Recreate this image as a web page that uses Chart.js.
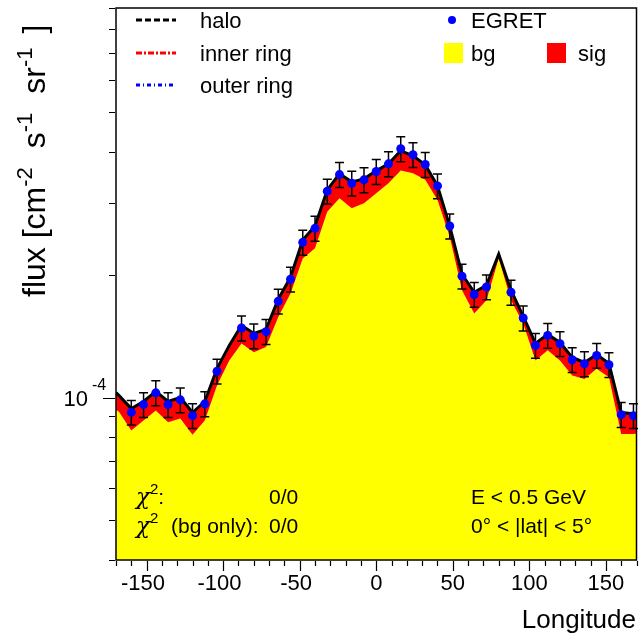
<!DOCTYPE html>
<html>
<head>
<meta charset="utf-8">
<script src="https://cdn.jsdelivr.net/npm/chart.js@4.4.0/dist/chart.umd.min.js"></script>
<style>
  html, body { margin: 0; padding: 0; background: #fff; }
  #wrap { width: 641px; height: 637px; }
</style>
</head>
<body>
<div id="wrap"><canvas id="chart" width="641" height="637"></canvas></div>
<script>
    // values in units of 1e-4 cm^-2 s^-1 sr^-1
    const UNIT = 1e-4;

    // model curves (bin centres every 8 deg, plus the frame edges)
    const modelLon = [-170, -168, -160, -152, -144, -136, -128, -120, -112, -104, -96, -88, -80, -72, -64, -56, -48, -40, -32, -24, -16, -8,
        0, 8, 16, 24, 32, 40, 48, 56, 64, 72, 80, 88, 96, 104, 112, 120, 128, 136, 144, 152, 160, 168, 170];
    const totalModel = [1.029, 1.011, 0.940, 0.978, 1.035, 0.978, 1.000, 0.919, 0.978, 1.178, 1.342, 1.503, 1.436, 1.469, 1.741, 1.971, 2.431, 2.631, 3.226, 3.531, 3.376, 3.433,
        3.592, 3.737, 4.022, 3.910, 3.715, 3.299, 2.631, 2.005, 1.811, 1.884, 2.246, 1.832, 1.581, 1.357, 1.428, 1.365, 1.254, 1.219, 1.275, 1.212, 0.919, 0.913, 0.913];
    const bgModel = [0.935, 0.922, 0.830, 0.878, 0.929, 0.870, 0.888, 0.811, 0.878, 1.070, 1.233, 1.357, 1.292, 1.329, 1.575, 1.798, 2.192, 2.320, 2.853, 3.077, 2.909, 2.992,
        3.166, 3.350, 3.597, 3.545, 3.414, 3.048, 2.477, 1.832, 1.606, 1.731, 2.192, 1.731, 1.518, 1.233, 1.305, 1.233, 1.132, 1.111, 1.176, 1.122, 0.814, 0.814, 0.815];

    // EGRET data points
    const egretLon = [-160, -152, -144, -136, -128, -120, -112, -104, -88, -80, -72, -64, -56, -48, -40, -32, -24, -16, -8,
        0, 8, 16, 24, 32, 40, 48, 56, 64, 72, 88, 96, 104, 112, 120, 128, 136, 144, 152, 160, 168];
    const egretFlux = [0.920, 0.961, 1.027, 0.961, 0.987, 0.903, 0.965, 1.160, 1.480, 1.415, 1.450, 1.721, 1.949, 2.400, 2.597, 3.202, 3.517, 3.350, 3.414,
        3.578, 3.737, 4.068, 3.933, 3.722, 3.299, 2.631, 1.983, 1.788, 1.866, 1.811, 1.566, 1.342, 1.420, 1.355, 1.238, 1.210, 1.268, 1.203, 0.908, 0.903];
    const egretErr = [0.064, 0.067, 0.072, 0.067, 0.069, 0.063, 0.068, 0.081, 0.104, 0.099, 0.102, 0.120, 0.136, 0.168, 0.182, 0.224, 0.246, 0.235, 0.239,
        0.250, 0.262, 0.285, 0.275, 0.261, 0.231, 0.184, 0.139, 0.125, 0.131, 0.127, 0.110, 0.094, 0.099, 0.095, 0.087, 0.085, 0.089, 0.084, 0.064, 0.063];

    const xMin = -170, xMax = 170;
    const yMin = 4e-5, yMax = 9e-4;
    const xLabels = [-150, -100, -50, 0, 50, 100, 150];
    const yTicks = [4e-5, 5e-5, 6e-5, 7e-5, 8e-5, 9e-5, 1e-4, 2e-4, 3e-4, 4e-4, 5e-4, 6e-4, 7e-4, 8e-4, 9e-4];

    const FONT = "'Liberation Sans', Arial, sans-serif";

    function pts(xs, ys) {
        return xs.map((x, i) => ({ x: x, y: ys[i] * UNIT }));
    }

    function font(size) {
        return size + 'px ' + FONT;
    }


    // error bars under the EGRET points
    const errorBars = {
        id: 'errorBars',
        beforeDatasetDraw(chart, args) {
            if (args.index !== 0) return;
            const ctx = chart.ctx;
            const xs = chart.scales.x, ys = chart.scales.y;
            ctx.save();
            ctx.strokeStyle = '#000';
            ctx.lineWidth = 1.5;
            egretLon.forEach((lon, i) => {
                let px = xs.getPixelForValue(lon);
                let top = ys.getPixelForValue((egretFlux[i] + egretErr[i]) * UNIT);
                let bot = ys.getPixelForValue((egretFlux[i] - egretErr[i]) * UNIT);
                ctx.beginPath();
                ctx.moveTo(px, top); ctx.lineTo(px, bot);
                ctx.moveTo(px - 4.5, top); ctx.lineTo(px + 4.5, top);
                ctx.moveTo(px - 4.5, bot); ctx.lineTo(px + 4.5, bot);
                ctx.stroke();
            });
            ctx.restore();
        }
    };

    function drawSup(ctx, base, sup, x, y, size, supSize, rise) {
        ctx.font = font(size);
        ctx.fillText(base, x, y);
        let w = ctx.measureText(base).width;
        ctx.font = font(supSize);
        ctx.fillText(sup, x + w, y - rise);
        return w + ctx.measureText(sup).width;
    }

    function drawChi(ctx, x, y) {
        ctx.font = "italic 23px 'DejaVu Serif', serif";
        ctx.fillText('\u03c7', x, y);
        let w = ctx.measureText('\u03c7').width;
        ctx.font = font(15);
        ctx.fillText('2', x + w, y - 10);
        return w + ctx.measureText('2').width;
    }

    // frame, ticks, labels, legend and text
    const frameAndText = {
        id: 'frameAndText',
        afterDraw(chart) {
            const ctx = chart.ctx;
            const a = chart.chartArea;
            const xs = chart.scales.x, ys = chart.scales.y;
            ctx.save();
            ctx.strokeStyle = '#000';
            ctx.fillStyle = '#000';
            ctx.lineWidth = 1.5;
            ctx.strokeRect(a.left, a.top, a.right - a.left, a.bottom - a.top);

            // x ticks
            ctx.lineWidth = 1.2;
            ctx.beginPath();
            for (let v = -170; v <= 170; v += 10) {
                let px = Math.round(xs.getPixelForValue(v)) + 0.5;
                let len = (v % 50 === 0) ? 10 : 5;
                ctx.moveTo(px, a.bottom + 1);
                ctx.lineTo(px, a.bottom + 1 + len);
            }
            // y ticks
            yTicks.forEach(v => {
                let py = Math.round(ys.getPixelForValue(v)) + 0.5;
                let len = (v === 1e-4) ? 12 : 6;
                ctx.moveTo(a.left - 1, py);
                ctx.lineTo(a.left - 1 - len, py);
            });
            ctx.stroke();

            ctx.font = font(22);
            ctx.textAlign = 'center';
            ctx.textBaseline = 'alphabetic';
            xLabels.forEach(v => {
                let px = xs.getPixelForValue(v);
                let txt = String(v);
                // centre on the digits, minus sign hangs left
                let off = v < 0 ? -ctx.measureText('-').width / 2 : 0;
                ctx.fillText(txt, px + off, 590);
            });

            ctx.textAlign = 'right';
            let py = ys.getPixelForValue(1e-4);
            ctx.font = font(22);
            ctx.fillText('10', 88, py + 8);
            ctx.textAlign = 'left';
            ctx.font = font(16);
            ctx.fillText('-4', 92, py - 8);

            ctx.font = font(26);
            ctx.textAlign = 'right';
            ctx.fillText('Longitude', 636, 628);

            // y title, with some room after each exponent
            ctx.save();
            ctx.translate(45, 297);
            ctx.rotate(-Math.PI / 2);
            ctx.textAlign = 'left';
            let x = 0;
            x += drawSup(ctx, 'flux [cm', '-2', x, 0, 32, 22, 13) + 19;
            x += drawSup(ctx, 's', '-1', x, 0, 32, 22, 13) + 19;
            x += drawSup(ctx, 'sr', '-1', x, 0, 32, 22, 13) + 14;
            ctx.font = font(32);
            ctx.fillText(']', x, 0);
            ctx.restore();

            // legend
            ctx.textAlign = 'left';
            ctx.font = font(22);
            const rows = [20, 53, 85];
            const styles = [['#000', [6, 3]], ['#ff0000', [6, 2, 2, 2]], ['#0000ff', [4, 3, 1, 3]]];
            ['halo', 'inner ring', 'outer ring'].forEach((t, i) => {
                ctx.strokeStyle = styles[i][0];
                ctx.lineWidth = 3;
                ctx.setLineDash(styles[i][1]);
                ctx.beginPath();
                ctx.moveTo(136, rows[i]);
                ctx.lineTo(176, rows[i]);
                ctx.stroke();
                ctx.setLineDash([]);
                ctx.fillStyle = '#000';
                ctx.fillText(t, 200, rows[i] + 8);
            });
            ctx.fillStyle = '#0000ff';
            ctx.beginPath();
            ctx.arc(452, rows[0], 4, 0, Math.PI * 2);
            ctx.fill();
            ctx.fillStyle = '#ffff00';
            ctx.fillRect(444, rows[1] - 10, 19, 20);
            ctx.fillStyle = '#ff0000';
            ctx.fillRect(547, rows[1] - 10, 19, 20);
            ctx.fillStyle = '#000';
            ctx.fillText('EGRET', 471, rows[0] + 8);
            ctx.fillText('bg', 471, rows[1] + 8);
            ctx.fillText('sig', 578, rows[1] + 8);

            // fit info
            let w = drawChi(ctx, 136, 504);
            ctx.font = font(21);
            ctx.fillText(':', 136 + w, 504);
            drawChi(ctx, 136, 533);
            ctx.font = font(21);
            ctx.fillText('(bg only):', 171, 533);
            ctx.fillText('0/0', 269, 504);
            ctx.fillText('0/0', 269, 533);
            ctx.fillText('E < 0.5 GeV', 471, 504);
            ctx.fillText('0\u00b0 < |lat| < 5\u00b0', 471, 533);
            ctx.restore();
        }
    };

    const ctx = document.getElementById('chart').getContext('2d');
    new Chart(ctx, {
        type: 'line',
        data: {
            datasets: [
                {
                    label: 'EGRET',
                    data: pts(egretLon, egretFlux),
                    showLine: false,
                    pointRadius: 4.5,
                    pointBackgroundColor: '#0000ff',
                    pointBorderColor: '#0000ff',
                    pointBorderWidth: 0
                },
                {
                    label: 'total',
                    data: pts(modelLon, totalModel),
                    borderColor: '#000',
                    borderWidth: 3,
                    pointRadius: 0,
                    tension: 0,
                    fill: 2,
                    backgroundColor: '#ff0000'
                },
                {
                    label: 'bg',
                    data: pts(modelLon, bgModel),
                    borderColor: 'rgba(0,0,0,0)',
                    borderWidth: 0,
                    pointRadius: 0,
                    tension: 0,
                    fill: 'start',
                    backgroundColor: '#ffff00'
                }
            ]
        },
        options: {
            responsive: false,
            animation: false,
            devicePixelRatio: 1,
            layout: { padding: { left: 116, right: 3, top: 8, bottom: 77 } },
            plugins: { legend: { display: false }, tooltip: { enabled: false } },
            scales: {
                x: { type: 'linear', min: xMin, max: xMax, display: false },
                y: { type: 'logarithmic', min: yMin, max: yMax, display: false }
            }
        },
        plugins: [errorBars, frameAndText]
    });
</script>
</body>
</html>
